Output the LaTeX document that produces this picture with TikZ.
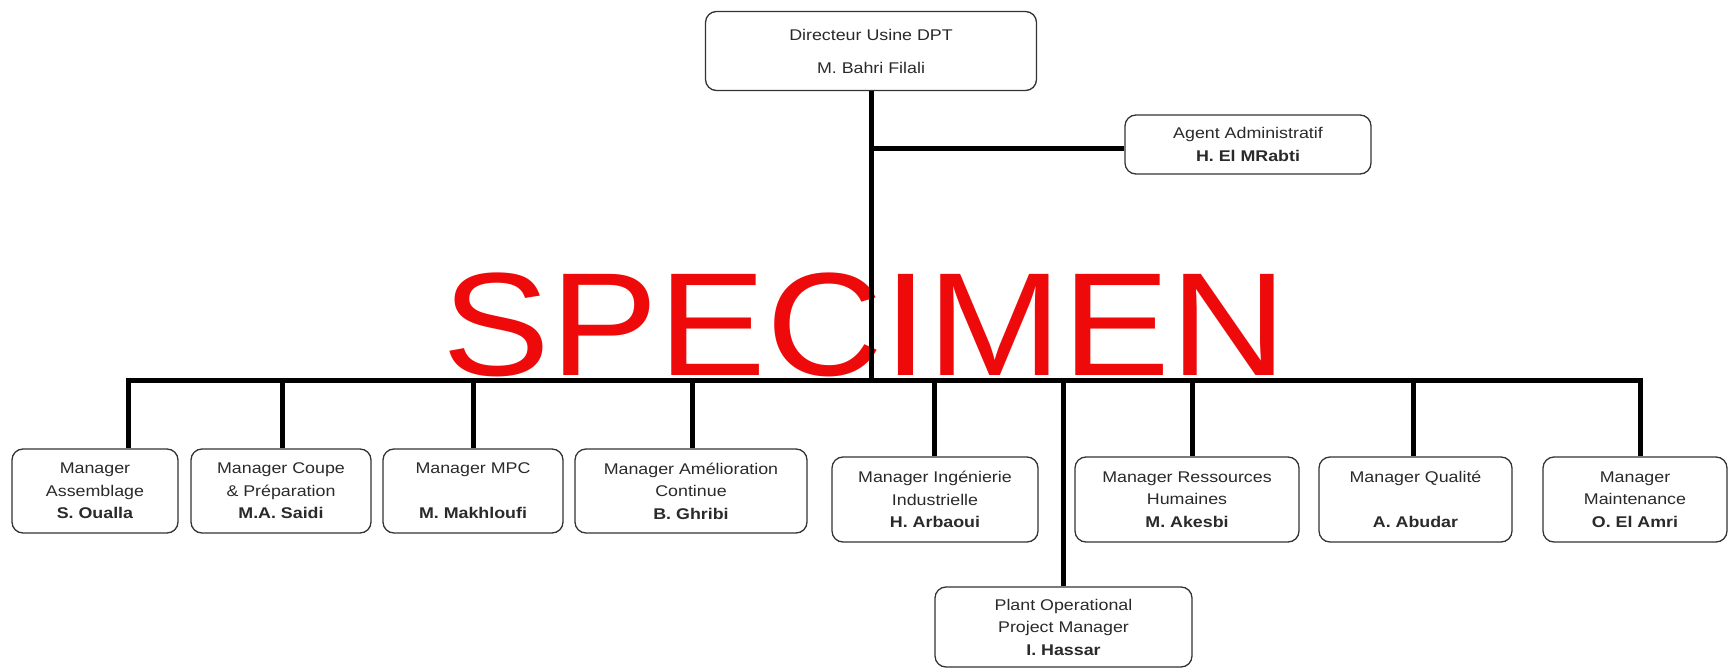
\documentclass[tikz,border=0pt]{standalone}
\usepackage{fontspec}
\setmainfont{Liberation Sans}[FakeStretch=1.15]
\newfontfamily\stampfont{Liberation Sans}[FakeStretch=1.1]
\definecolor{boxline}{HTML}{333333}
\definecolor{txt}{HTML}{2A2A2A}
\definecolor{stampred}{HTML}{EE0A0A}
\begin{document}
\begin{tikzpicture}[x=1pt,y=-1pt,
  box/.style={draw=boxline, line width=1.3pt, rounded corners=11pt, fill=white,
    align=center, inner sep=0pt, text=txt,
    font=\fontsize{15.5}{22.5}\selectfont},
  conn/.style={draw=black, line width=5pt, line join=miter}]
\useasboundingbox (0,0) rectangle (1728,668);

% watermark
\node[text=stampred, font=\stampfont\fontsize{147}{147}\selectfont,
  anchor=base, inner sep=0pt] (stamp) at (865,375) {SPECIMEN};

% boxes
\node[box, minimum width=331, minimum height=79] (top) at (871,51)
  {Directeur Usine DPT\\[10.5pt]M. Bahri Filali};
\node[box, minimum width=246, minimum height=59] (ag) at (1248,144.5)
  {Agent Administratif\\\textbf{H. El MRabti}};

\node[box, minimum width=166, minimum height=84] (b1) at (95,491)
  {Manager\\Assemblage\\\textbf{S. Oualla}};
\node[box, minimum width=180, minimum height=84] (b2) at (281,491)
  {Manager Coupe\\\& Préparation\\\textbf{M.A. Saidi}};
\node[box, minimum width=180, minimum height=84] (b3) at (473,491)
  {Manager MPC\\[22.5pt]\textbf{M. Makhloufi}};
\node[box, minimum width=232, minimum height=84] (b4) at (691,491)
  {Manager Amélioration\\Continue\\\textbf{B. Ghribi}};
\node[box, minimum width=206, minimum height=85] (b5) at (935,499.5)
  {Manager Ingénierie\\Industrielle\\\textbf{H. Arbaoui}};
\node[box, minimum width=224, minimum height=85] (b6) at (1187,499.5)
  {Manager Ressources\\Humaines\\\textbf{M. Akesbi}};
\node[box, minimum width=193, minimum height=85] (b7) at (1415.5,499.5)
  {Manager Qualité\\[22.5pt]\textbf{A. Abudar}};
\node[box, minimum width=184, minimum height=85] (b8) at (1635,499.5)
  {Manager\\Maintenance\\\textbf{O. El Amri}};
\node[box, minimum width=257, minimum height=80] (b9) at (1063.5,627)
  {Plant Operational\\Project Manager\\\textbf{I. Hassar}};

% bus and drop points
\coordinate (hub) at (871,380);
\coordinate (j) at (871,149);
\coordinate (p1) at (128,380);
\coordinate (p2) at (282,380);
\coordinate (p3) at (473,380);
\coordinate (p4) at (692,380);
\coordinate (p5) at (934,380);
\coordinate (p9) at (1063,380);
\coordinate (p6) at (1192,380);
\coordinate (p7) at (1413,380);
\coordinate (p8) at (1640,380);

% connectors
\draw[conn] (top.south) -- (hub);
\draw[conn] (j) -- (j -| ag.west);
\draw[conn] (b1.north -| p1) -- (p1) -- (p8) -- (b8.north -| p8);
\foreach \p/\b in {p2/b2, p3/b3, p4/b4, p5/b5, p9/b9, p6/b6, p7/b7}
  \draw[conn] (\p) -- (\b.north -| \p);
\end{tikzpicture}
\end{document}
